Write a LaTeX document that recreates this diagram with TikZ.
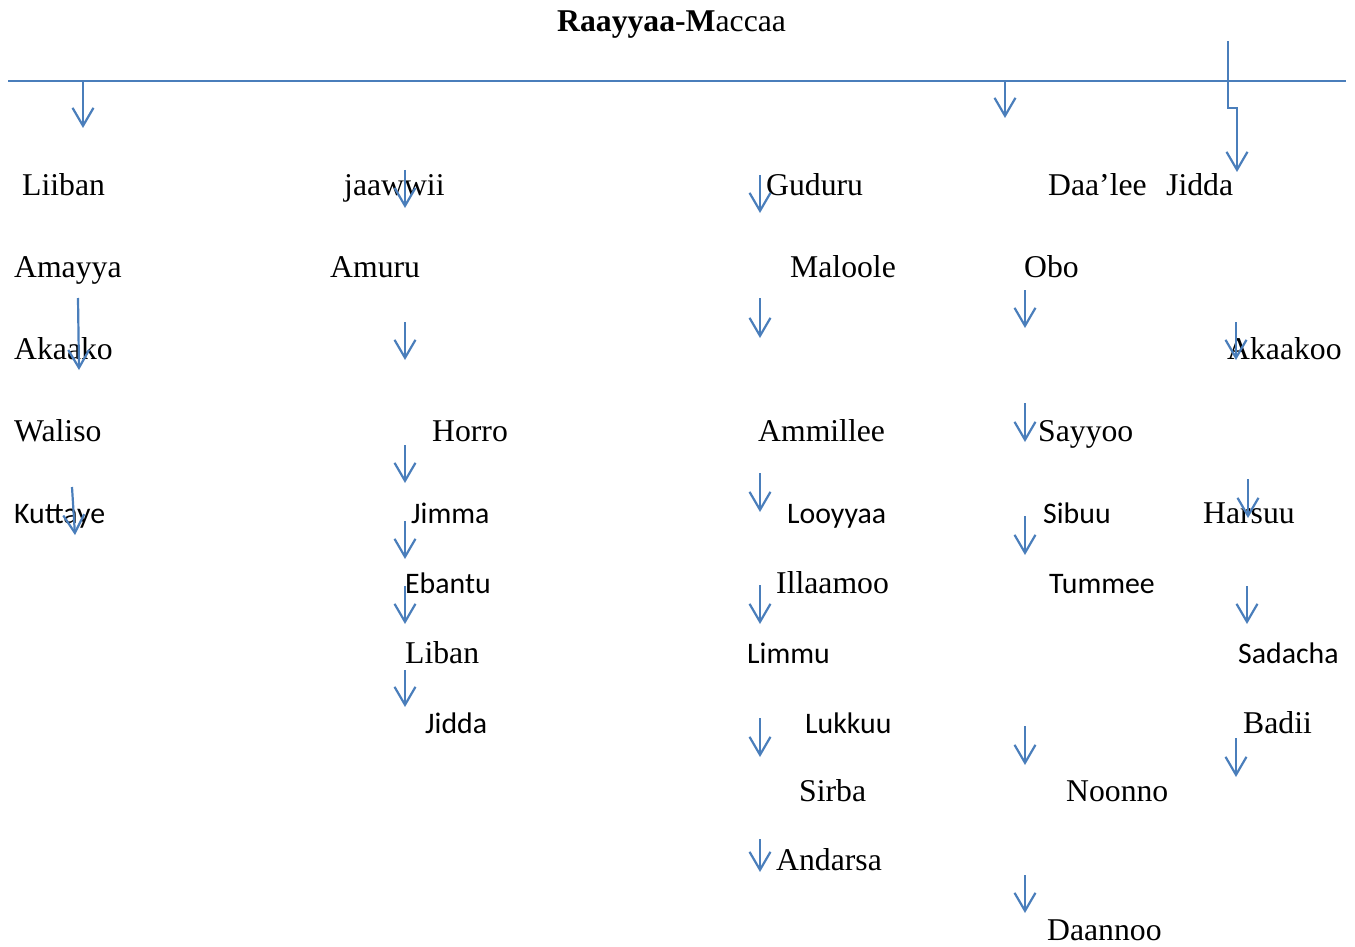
\documentclass[tikz,border=0pt]{standalone}
\usepackage{fontspec}
\setmainfont{Liberation Serif}
\newfontfamily\calibfont{Carlito}
\usetikzlibrary{arrows.meta}
\definecolor{lineblue}{HTML}{4A7EBB}

\begin{document}
\begin{tikzpicture}[x=1pt, y=-1pt,
    tm/.style = {anchor=base west, inner sep=0pt, font=\fontsize{31.7}{36}\selectfont},
    cb/.style = {anchor=base west, inner sep=0pt, font=\calibfont\fontsize{29.8}{34}\selectfont},
    arr/.style = {draw=lineblue, line width=2.2pt, -{Straight Barb[length=18pt,width=21pt]}}]
    \useasboundingbox (0,0) rectangle (1355,947);

    \node[tm] (title) at (557,32) {\textbf{Raayyaa-M}accaa};

    % main line
    \coordinate (lineL) at (8,81);
    \coordinate (lineR) at (1346,81);
    \draw[lineblue, line width=2pt] (lineL) -- (lineR);

    % row 1
    \node[tm] (liiban) at (22,195) {Liiban};
    \node[tm] (jaawwii) at (344,195) {jaawwii};
    \node[tm] (guduru) at (766,195) {Guduru};
    \node[tm] (daalee) at (1048,195) {Daa’lee};
    \node[tm] (jiddaA) at (1166,195) {Jidda};

    % row 2
    \node[tm] (amayya) at (14,277) {Amayya};
    \node[tm] (amuru) at (330,277) {Amuru};
    \node[tm] (maloole) at (790,277) {Maloole};
    \node[tm] (obo) at (1024,277) {Obo};

    % row 3
    \node[tm] (akaako) at (14,359) {Akaako};
    \node[tm] (akaakoo) at (1227,359) {Akaakoo};

    % row 4
    \node[tm] (waliso) at (14,441) {Waliso};
    \node[tm] (horro) at (432,441) {Horro};
    \node[tm] (ammillee) at (758,441) {Ammillee};
    \node[tm] (sayyoo) at (1038,441) {Sayyoo};

    % row 5
    \node[cb] (kuttaye) at (14,523) {Kuttaye};
    \node[cb] (jimma) at (411,523) {Jimma};
    \node[cb] (looyyaa) at (787,523) {Looyyaa};
    \node[cb] (sibuu) at (1043,523) {Sibuu};
    \node[tm] (harsuu) at (1203,523) {Harsuu};

    % row 6
    \node[cb] (ebantu) at (405,593) {Ebantu};
    \node[tm] (illaamoo) at (776,593) {Illaamoo};
    \node[cb] (tummee) at (1049,593) {Tummee};

    % row 7
    \node[tm] (liban) at (405,663) {Liban};
    \node[cb] (limmu) at (747,663) {Limmu};
    \node[cb] (sadacha) at (1238,663) {Sadacha};

    % row 8
    \node[cb] (jiddaB) at (425,733) {Jidda};
    \node[cb] (lukkuu) at (805,733) {Lukkuu};
    \node[tm] (badii) at (1243,733) {Badii};

    % rows 9-11
    \node[tm] (sirba) at (799,801) {Sirba};
    \node[tm] (noonno) at (1066,801) {Noonno};
    \node[tm] (andarsa) at (776,870) {Andarsa};
    \node[tm] (daannoo) at (1047,940) {Daannoo};

    % arrows
    \foreach \n/\xa/\ya/\xb/\yb in {a/83/81/83/128, b/1005/81/1005/118,
        c/405/170/405/208, d/760/175/760/213, e/78/298/79/370,
        f/405/322/405/360, g/760/298/760/338, h/1025/290/1025/328,
        i/1236/322/1236/360, j/1025/403/1025/442, k/405/445/405/483,
        l/760/473/760/512, m/1248/479/1248/518, n/72/487/75/535,
        o/405/521/405/559, p/1025/516/1025/555, q/405/586/405/624,
        r/760/585/760/624, s/1247/586/1247/624, t/405/670/405/707,
        u/760/718/760/757, v/1025/726/1025/765, w/1236/738/1236/777,
        x/760/839/760/872, y/1025/875/1025/913} {
        \coordinate (s\n) at (\xa,\ya);
        \coordinate (e\n) at (\xb,\yb);
        \draw[arr] (s\n) -- (e\n);
    }

    % elbow arrow to Jidda
    \coordinate (jtop) at (1228,41);
    \coordinate (jend) at (1237,172);
    \draw[arr] (jtop) -- ++(0,67) -| (jend);
\end{tikzpicture}
\end{document}
